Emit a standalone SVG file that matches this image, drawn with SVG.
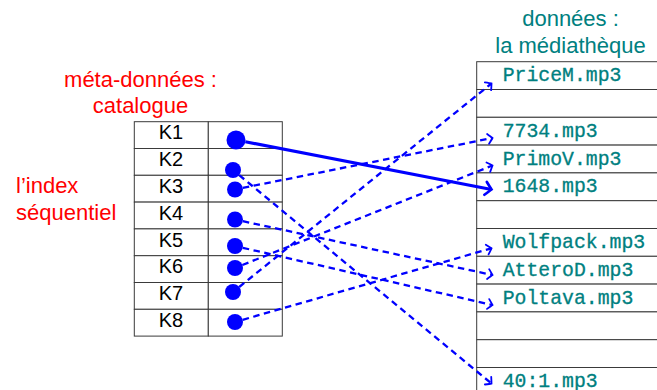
<svg xmlns="http://www.w3.org/2000/svg" width="657" height="390" viewBox="0 0 657 390">
<style>
.cell{fill:#fff;stroke:#3a3a3a;stroke-width:1}
.k{font-family:"Liberation Sans",Arial,sans-serif;font-size:20px;fill:#000;text-anchor:middle}
.dot{fill:#0000ff}
.file{font-family:"Liberation Mono","DejaVu Sans Mono",monospace;font-size:19.8px;fill:#008080;stroke:#008080;stroke-width:0.3}
.red{font-family:"Liberation Sans",Arial,sans-serif;font-size:22px;fill:#ff0000}
.teal{font-family:"Liberation Sans",Arial,sans-serif;font-size:22px;fill:#008080;text-anchor:middle}
.dash{stroke:#0000ff;stroke-width:2.3;fill:none;stroke-dasharray:6.5 4.5;marker-end:url(#arr)}
.solid{stroke:#0000ff;stroke-width:3.2;fill:none;marker-end:url(#arrbig)}
</style>
<defs>
<marker id="arr" markerUnits="userSpaceOnUse" viewBox="-7 -7 9 14" refX="0" refY="0" markerWidth="9" markerHeight="14" orient="auto" overflow="visible">
<path d="M -4.5 -5 Q -1 -1.2 0 0 Q -1 1.2 -4.5 5" fill="none" stroke="#0000ff" stroke-width="1.8" stroke-dasharray="none" stroke-linecap="round"/>
</marker>
<marker id="arrbig" markerUnits="userSpaceOnUse" viewBox="-9 -9 11 18" refX="0" refY="0" markerWidth="11" markerHeight="18" orient="auto" overflow="visible">
<path d="M -6 -6.5 Q -1.5 -1.6 0 0 Q -1.5 1.6 -6 6.5" fill="none" stroke="#0000ff" stroke-width="2.7" stroke-dasharray="none" stroke-linecap="round"/>
</marker>
</defs>
<rect width="657" height="390" fill="#fff"/>

<g id="labels">
<text class="red" x="140.5" y="86.7" text-anchor="middle">méta-données :</text>
<text class="red" x="140.5" y="113.3" text-anchor="middle">catalogue</text>
<text class="red" x="16" y="193.3">l’index</text>
<text class="red" x="16" y="220">séquentiel</text>
<text class="teal" x="570.5" y="26">données :</text>
<text class="teal" x="570.5" y="52.7">la médiathèque</text>
</g>

<g id="media">
<g id="m0"><rect class="cell" x="476.7" y="61.7" width="200" height="27.8"/><text class="file" x="502.7" y="81.1">PriceM.mp3</text></g>
<g id="m1"><rect class="cell" x="476.7" y="89.5" width="200" height="27.8"/></g>
<g id="m2"><rect class="cell" x="476.7" y="117.3" width="200" height="27.8"/><text class="file" x="502.7" y="136.7">7734.mp3</text></g>
<g id="m3"><rect class="cell" x="476.7" y="145.1" width="200" height="27.8"/><text class="file" x="502.7" y="164.5">PrimoV.mp3</text></g>
<g id="m4"><rect class="cell" x="476.7" y="172.9" width="200" height="27.8"/><text class="file" x="502.7" y="192.3">1648.mp3</text></g>
<g id="m5"><rect class="cell" x="476.7" y="200.7" width="200" height="27.8"/></g>
<g id="m6"><rect class="cell" x="476.7" y="228.5" width="200" height="27.8"/><text class="file" x="502.7" y="247.9">Wolfpack.mp3</text></g>
<g id="m7"><rect class="cell" x="476.7" y="256.3" width="200" height="27.8"/><text class="file" x="502.7" y="275.7">AtteroD.mp3</text></g>
<g id="m8"><rect class="cell" x="476.7" y="284.1" width="200" height="27.8"/><text class="file" x="502.7" y="303.5">Poltava.mp3</text></g>
<g id="m9"><rect class="cell" x="476.7" y="311.9" width="200" height="27.8"/></g>
<g id="m10"><rect class="cell" x="476.7" y="339.7" width="200" height="27.8"/></g>
<g id="m11"><rect class="cell" x="476.7" y="367.5" width="200" height="27.8"/><text class="file" x="502.7" y="386.9">40:1.mp3</text></g>
</g>

<g id="index">
<g id="K1"><rect class="cell" x="134.3" y="121.7" width="74" height="26.8"/><rect class="cell" x="208.3" y="121.7" width="74" height="26.8"/><text class="k" x="171" y="139.3">K1</text></g>
<g id="K2"><rect class="cell" x="134.3" y="148.5" width="74" height="26.8"/><rect class="cell" x="208.3" y="148.5" width="74" height="26.8"/><text class="k" x="171" y="166.1">K2</text></g>
<g id="K3"><rect class="cell" x="134.3" y="175.3" width="74" height="26.8"/><rect class="cell" x="208.3" y="175.3" width="74" height="26.8"/><text class="k" x="171" y="192.9">K3</text></g>
<g id="K4"><rect class="cell" x="134.3" y="202.1" width="74" height="26.8"/><rect class="cell" x="208.3" y="202.1" width="74" height="26.8"/><text class="k" x="171" y="219.7">K4</text></g>
<g id="K5"><rect class="cell" x="134.3" y="228.9" width="74" height="26.8"/><rect class="cell" x="208.3" y="228.9" width="74" height="26.8"/><text class="k" x="171" y="246.5">K5</text></g>
<g id="K6"><rect class="cell" x="134.3" y="255.7" width="74" height="26.8"/><rect class="cell" x="208.3" y="255.7" width="74" height="26.8"/><text class="k" x="171" y="273.3">K6</text></g>
<g id="K7"><rect class="cell" x="134.3" y="282.5" width="74" height="26.8"/><rect class="cell" x="208.3" y="282.5" width="74" height="26.8"/><text class="k" x="171" y="300.1">K7</text></g>
<g id="K8"><rect class="cell" x="134.3" y="309.3" width="74" height="26.8"/><rect class="cell" x="208.3" y="309.3" width="74" height="26.8"/><text class="k" x="171" y="326.9">K8</text></g>
</g>

<g id="connectors">
<line class="solid" x1="245.3" y1="141.8" x2="491.5" y2="189.5"/>
<line class="dash" x1="239.2" y1="175.1" x2="491.5" y2="383.5"/>
<line class="dash" x1="242.8" y1="187.9" x2="492.5" y2="138"/>
<line class="dash" x1="242.8" y1="221.2" x2="492.5" y2="275"/>
<line class="dash" x1="242.8" y1="247.8" x2="492.5" y2="305"/>
<line class="dash" x1="242.4" y1="265" x2="492.5" y2="165.5"/>
<line class="dash" x1="239.2" y1="287" x2="491.5" y2="83.5"/>
<line class="dash" x1="242.7" y1="319.8" x2="491.5" y2="248.3"/>
</g>

<g id="dots">
<circle class="dot" cx="236" cy="140" r="9.5"/>
<circle class="dot" cx="233" cy="170" r="8"/>
<circle class="dot" cx="235" cy="189.5" r="8"/>
<circle class="dot" cx="235" cy="219.5" r="8"/>
<circle class="dot" cx="235" cy="246" r="8"/>
<circle class="dot" cx="235" cy="268" r="8"/>
<circle class="dot" cx="233" cy="292" r="8"/>
<circle class="dot" cx="235" cy="322" r="8"/>
</g>
</svg>
